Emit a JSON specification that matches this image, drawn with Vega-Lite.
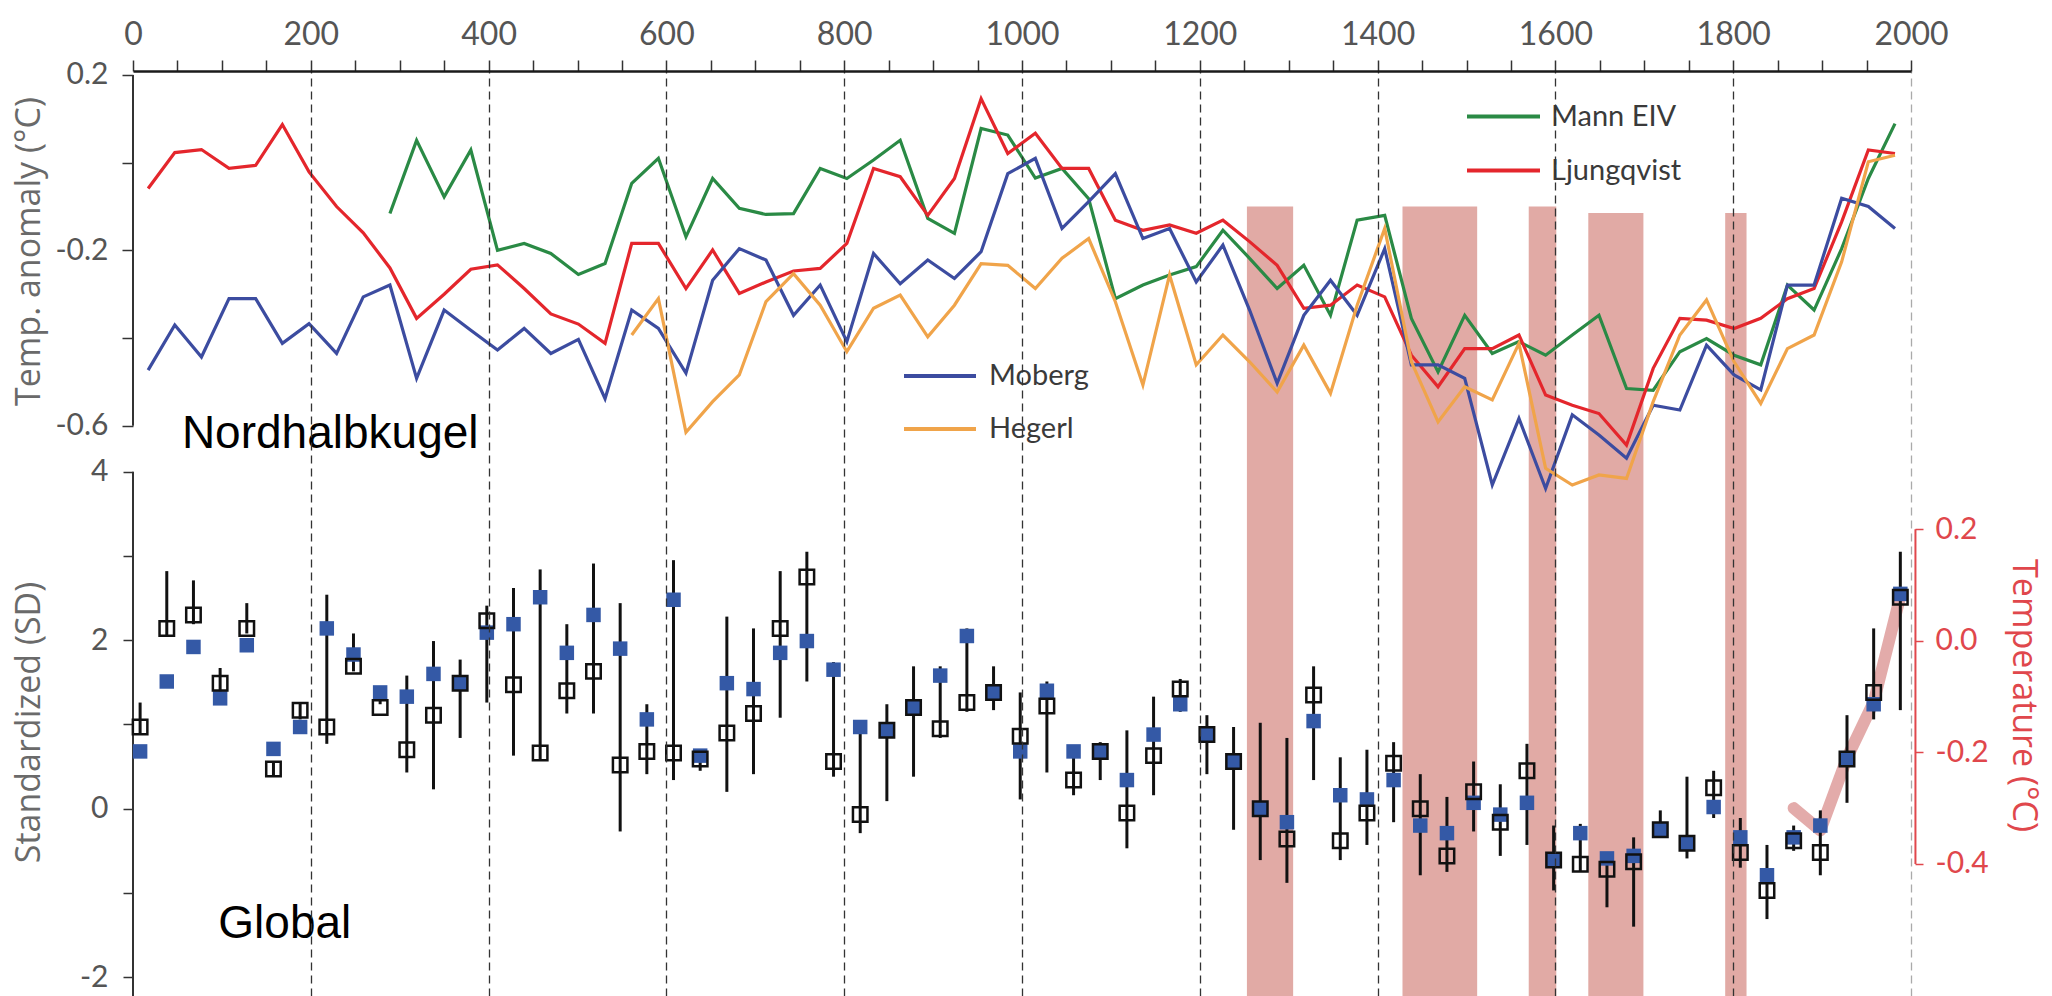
{
  "$schema": "https://vega.github.io/schema/vega-lite/v6.json",
  "width": 1778,
  "height": 925,
  "autosize": {"type": "none"},
  "padding": {"left": 133, "top": 71, "right": 141, "bottom": 0},
  "background": "white",
  "config": {
    "view": {"stroke": null},
    "axis": {"labelFont": "Lato", "titleFont": "Open Sans", "titleFontWeight": "normal"},
    "legend": {"labelFont": "Lato"}
  },
  "datasets": {
    "top": [
      {"year": 17, "ljung": -0.059, "moberg": -0.473},
      {"year": 47, "ljung": 0.023, "moberg": -0.370},
      {"year": 77, "ljung": 0.030, "moberg": -0.443},
      {"year": 108, "ljung": -0.013, "moberg": -0.310},
      {"year": 138, "ljung": -0.006, "moberg": -0.310},
      {"year": 168, "ljung": 0.087, "moberg": -0.412},
      {"year": 198, "ljung": -0.021, "moberg": -0.367},
      {"year": 229, "ljung": -0.100, "moberg": -0.435},
      {"year": 259, "ljung": -0.160, "moberg": -0.306},
      {"year": 289, "mann": -0.116, "ljung": -0.240, "moberg": -0.279},
      {"year": 319, "mann": 0.051, "ljung": -0.355, "moberg": -0.492},
      {"year": 350, "mann": -0.078, "ljung": -0.300, "moberg": -0.336},
      {"year": 380, "mann": 0.029, "ljung": -0.243, "moberg": -0.382},
      {"year": 410, "mann": -0.200, "ljung": -0.233, "moberg": -0.427},
      {"year": 440, "mann": -0.184, "ljung": -0.287, "moberg": -0.378},
      {"year": 470, "mann": -0.207, "ljung": -0.345, "moberg": -0.435},
      {"year": 501, "mann": -0.255, "ljung": -0.368, "moberg": -0.403},
      {"year": 531, "mann": -0.230, "ljung": -0.412, "moberg": -0.538},
      {"year": 561, "mann": -0.047, "ljung": -0.184, "moberg": -0.336, "hegerl": -0.393},
      {"year": 591, "mann": 0.010, "ljung": -0.184, "moberg": -0.378, "hegerl": -0.310},
      {"year": 622, "mann": -0.169, "ljung": -0.287, "moberg": -0.480, "hegerl": -0.615},
      {"year": 652, "mann": -0.036, "ljung": -0.199, "moberg": -0.268, "hegerl": -0.545},
      {"year": 682, "mann": -0.104, "ljung": -0.298, "moberg": -0.196, "hegerl": -0.484},
      {"year": 712, "mann": -0.118, "ljung": -0.272, "moberg": -0.222, "hegerl": -0.317},
      {"year": 743, "mann": -0.116, "ljung": -0.247, "moberg": -0.348, "hegerl": -0.253},
      {"year": 773, "mann": -0.013, "ljung": -0.241, "moberg": -0.279, "hegerl": -0.325},
      {"year": 803, "mann": -0.036, "ljung": -0.184, "moberg": -0.408, "hegerl": -0.431},
      {"year": 833, "mann": 0.006, "ljung": -0.013, "moberg": -0.207, "hegerl": -0.332},
      {"year": 863, "mann": 0.051, "ljung": -0.032, "moberg": -0.276, "hegerl": -0.302},
      {"year": 894, "mann": -0.127, "ljung": -0.120, "moberg": -0.222, "hegerl": -0.397},
      {"year": 924, "mann": -0.161, "ljung": -0.036, "moberg": -0.264, "hegerl": -0.325},
      {"year": 954, "mann": 0.078, "ljung": 0.146, "moberg": -0.203, "hegerl": -0.230},
      {"year": 984, "mann": 0.063, "ljung": 0.021, "moberg": -0.025, "hegerl": -0.234},
      {"year": 1015, "mann": -0.035, "ljung": 0.067, "moberg": 0.010, "hegerl": -0.287},
      {"year": 1045, "mann": -0.013, "ljung": -0.013, "moberg": -0.150, "hegerl": -0.218},
      {"year": 1075, "mann": -0.082, "ljung": -0.013, "moberg": -0.089, "hegerl": -0.173},
      {"year": 1105, "mann": -0.310, "ljung": -0.131, "moberg": -0.025, "hegerl": -0.317},
      {"year": 1136, "mann": -0.279, "ljung": -0.154, "moberg": -0.173, "hegerl": -0.507},
      {"year": 1166, "mann": -0.256, "ljung": -0.142, "moberg": -0.150, "hegerl": -0.256},
      {"year": 1196, "mann": -0.237, "ljung": -0.161, "moberg": -0.272, "hegerl": -0.461},
      {"year": 1226, "mann": -0.154, "ljung": -0.131, "moberg": -0.188, "hegerl": -0.393},
      {"year": 1256, "mann": -0.218, "ljung": -0.180, "moberg": -0.336, "hegerl": -0.454},
      {"year": 1287, "mann": -0.287, "ljung": -0.234, "moberg": -0.503, "hegerl": -0.523},
      {"year": 1317, "mann": -0.234, "ljung": -0.332, "moberg": -0.348, "hegerl": -0.416},
      {"year": 1347, "mann": -0.348, "ljung": -0.325, "moberg": -0.268, "hegerl": -0.526},
      {"year": 1377, "mann": -0.131, "ljung": -0.279, "moberg": -0.348, "hegerl": -0.325},
      {"year": 1408, "mann": -0.120, "ljung": -0.306, "moberg": -0.196, "hegerl": -0.150},
      {"year": 1438, "mann": -0.355, "ljung": -0.439, "moberg": -0.461, "hegerl": -0.454},
      {"year": 1468, "mann": -0.477, "ljung": -0.511, "moberg": -0.461, "hegerl": -0.591},
      {"year": 1498, "mann": -0.348, "ljung": -0.424, "moberg": -0.492, "hegerl": -0.511},
      {"year": 1529, "mann": -0.435, "ljung": -0.424, "moberg": -0.735, "hegerl": -0.541},
      {"year": 1559, "mann": -0.408, "ljung": -0.393, "moberg": -0.583, "hegerl": -0.412},
      {"year": 1589, "mann": -0.439, "ljung": -0.530, "moberg": -0.743, "hegerl": -0.697},
      {"year": 1619, "mann": -0.393, "ljung": -0.553, "moberg": -0.575, "hegerl": -0.735},
      {"year": 1649, "mann": -0.348, "ljung": -0.572, "moberg": -0.621, "hegerl": -0.712},
      {"year": 1680, "mann": -0.515, "ljung": -0.644, "moberg": -0.674, "hegerl": -0.720},
      {"year": 1710, "mann": -0.519, "ljung": -0.469, "moberg": -0.553, "hegerl": -0.545},
      {"year": 1740, "mann": -0.431, "ljung": -0.355, "moberg": -0.564, "hegerl": -0.393},
      {"year": 1770, "mann": -0.401, "ljung": -0.359, "moberg": -0.416, "hegerl": -0.313},
      {"year": 1801, "mann": -0.439, "ljung": -0.378, "moberg": -0.484, "hegerl": -0.454},
      {"year": 1831, "mann": -0.461, "ljung": -0.355, "moberg": -0.518, "hegerl": -0.549},
      {"year": 1861, "mann": -0.279, "ljung": -0.310, "moberg": -0.279, "hegerl": -0.424},
      {"year": 1891, "mann": -0.336, "ljung": -0.287, "moberg": -0.279, "hegerl": -0.393},
      {"year": 1922, "mann": -0.196, "ljung": -0.135, "moberg": -0.081, "hegerl": -0.226},
      {"year": 1952, "mann": -0.036, "ljung": 0.029, "moberg": -0.100, "hegerl": 0.002},
      {"year": 1982, "mann": 0.089, "ljung": 0.021, "moberg": -0.150, "hegerl": 0.017}
    ],
    "bottom": [
      {"year": 8, "open": 0.97, "blue": 0.68, "lo": 0.88, "hi": 1.26},
      {"year": 38, "open": 2.14, "blue": 1.51, "lo": 2.05, "hi": 2.82},
      {"year": 68, "open": 2.30, "blue": 1.92, "lo": 2.19, "hi": 2.71},
      {"year": 98, "open": 1.49, "blue": 1.31, "lo": 1.35, "hi": 1.67},
      {"year": 128, "open": 2.14, "blue": 1.94, "lo": 2.08, "hi": 2.44},
      {"year": 158, "open": 0.47, "blue": 0.71, "lo": 0.38, "hi": 0.56},
      {"year": 188, "open": 1.17, "blue": 0.97, "lo": 1.06, "hi": 1.26},
      {"year": 218, "open": 0.97, "blue": 2.14, "lo": 0.77, "hi": 2.54},
      {"year": 248, "open": 1.69, "blue": 1.83, "lo": 1.63, "hi": 2.08},
      {"year": 278, "open": 1.20, "blue": 1.38, "lo": 1.24, "hi": 1.45},
      {"year": 308, "open": 0.70, "blue": 1.33, "lo": 0.43, "hi": 1.58},
      {"year": 338, "open": 1.11, "blue": 1.60, "lo": 0.23, "hi": 1.99},
      {"year": 368, "open": 1.49, "blue": 1.49, "lo": 0.84, "hi": 1.77},
      {"year": 398, "open": 2.23, "blue": 2.09, "lo": 1.26, "hi": 2.41},
      {"year": 428, "open": 1.47, "blue": 2.19, "lo": 0.63, "hi": 2.62},
      {"year": 458, "open": 0.66, "blue": 2.51, "lo": 0.59, "hi": 2.84},
      {"year": 488, "open": 1.40, "blue": 1.85, "lo": 1.13, "hi": 2.19},
      {"year": 518, "open": 1.63, "blue": 2.30, "lo": 1.13, "hi": 2.91},
      {"year": 548, "open": 0.52, "blue": 1.90, "lo": -0.27, "hi": 2.44},
      {"year": 578, "open": 0.68, "blue": 1.06, "lo": 0.41, "hi": 1.24},
      {"year": 608, "open": 0.66, "blue": 2.48, "lo": 0.34, "hi": 2.95},
      {"year": 638, "open": 0.59, "blue": 0.63, "lo": 0.45, "hi": 0.70},
      {"year": 668, "open": 0.90, "blue": 1.49, "lo": 0.20, "hi": 2.28},
      {"year": 698, "open": 1.13, "blue": 1.42, "lo": 0.41, "hi": 2.14},
      {"year": 728, "open": 2.14, "blue": 1.85, "lo": 1.08, "hi": 2.82},
      {"year": 758, "open": 2.75, "blue": 1.99, "lo": 1.51, "hi": 3.05},
      {"year": 788, "open": 0.56, "blue": 1.65, "lo": 0.38, "hi": 1.74},
      {"year": 818, "open": -0.07, "blue": 0.97, "lo": -0.29, "hi": 0.97},
      {"year": 848, "open": 0.93, "blue": 0.93, "lo": 0.09, "hi": 1.24},
      {"year": 878, "open": 1.20, "blue": 1.20, "lo": 0.38, "hi": 1.69},
      {"year": 908, "open": 0.95, "blue": 1.58, "lo": 0.84, "hi": 1.69},
      {"year": 938, "open": 1.26, "blue": 2.05, "lo": 1.15, "hi": 2.14},
      {"year": 968, "open": 1.38, "blue": 1.38, "lo": 1.17, "hi": 1.69},
      {"year": 998, "open": 0.86, "blue": 0.68, "lo": 0.11, "hi": 1.38},
      {"year": 1028, "open": 1.22, "blue": 1.40, "lo": 0.43, "hi": 1.51},
      {"year": 1058, "open": 0.34, "blue": 0.68, "lo": 0.16, "hi": 0.70},
      {"year": 1088, "open": 0.68, "blue": 0.68, "lo": 0.34, "hi": 0.79},
      {"year": 1118, "open": -0.05, "blue": 0.34, "lo": -0.47, "hi": 0.93},
      {"year": 1148, "open": 0.63, "blue": 0.88, "lo": 0.16, "hi": 1.33},
      {"year": 1178, "open": 1.42, "blue": 1.24, "lo": 1.15, "hi": 1.54},
      {"year": 1208, "open": 0.88, "blue": 0.88, "lo": 0.41, "hi": 1.11},
      {"year": 1238, "open": 0.56, "blue": 0.56, "lo": -0.25, "hi": 0.97},
      {"year": 1268, "open": 0.00, "blue": 0.00, "lo": -0.61, "hi": 1.02},
      {"year": 1298, "open": -0.36, "blue": -0.16, "lo": -0.88, "hi": 0.84},
      {"year": 1328, "open": 1.35, "blue": 1.04, "lo": 0.34, "hi": 1.69},
      {"year": 1358, "open": -0.38, "blue": 0.16, "lo": -0.61, "hi": 0.61},
      {"year": 1388, "open": -0.05, "blue": 0.11, "lo": -0.43, "hi": 0.70},
      {"year": 1418, "open": 0.54, "blue": 0.34, "lo": -0.16, "hi": 0.79},
      {"year": 1448, "open": 0.00, "blue": -0.20, "lo": -0.79, "hi": 0.41},
      {"year": 1478, "open": -0.56, "blue": -0.29, "lo": -0.75, "hi": 0.14},
      {"year": 1508, "open": 0.20, "blue": 0.07, "lo": -0.27, "hi": 0.56},
      {"year": 1538, "open": -0.16, "blue": -0.07, "lo": -0.56, "hi": 0.29},
      {"year": 1568, "open": 0.45, "blue": 0.07, "lo": -0.43, "hi": 0.77},
      {"year": 1598, "open": -0.61, "blue": -0.61, "lo": -0.97, "hi": -0.20},
      {"year": 1628, "open": -0.66, "blue": -0.29, "lo": -0.75, "hi": -0.18},
      {"year": 1658, "open": -0.72, "blue": -0.59, "lo": -1.17, "hi": -0.54},
      {"year": 1688, "open": -0.63, "blue": -0.56, "lo": -1.40, "hi": -0.34},
      {"year": 1718, "open": -0.25, "blue": -0.25, "lo": -0.34, "hi": -0.02},
      {"year": 1748, "open": -0.41, "blue": -0.41, "lo": -0.59, "hi": 0.38},
      {"year": 1778, "open": 0.25, "blue": 0.02, "lo": -0.11, "hi": 0.45},
      {"year": 1808, "open": -0.52, "blue": -0.34, "lo": -0.70, "hi": -0.11},
      {"year": 1838, "open": -0.97, "blue": -0.79, "lo": -1.31, "hi": -0.43},
      {"year": 1868, "open": -0.38, "blue": -0.34, "lo": -0.50, "hi": -0.20},
      {"year": 1898, "open": -0.52, "blue": -0.20, "lo": -0.79, "hi": -0.02},
      {"year": 1928, "open": 0.59, "blue": 0.59, "lo": 0.07, "hi": 1.11},
      {"year": 1958, "open": 1.38, "blue": 1.24, "lo": 1.06, "hi": 2.14},
      {"year": 1988, "open": 2.51, "blue": 2.55, "lo": 1.17, "hi": 3.05}
    ],
    "instr": [
      {"year": 1868, "temp": -0.30},
      {"year": 1898, "temp": -0.34},
      {"year": 1928, "temp": -0.21},
      {"year": 1958, "temp": -0.11},
      {"year": 1988, "temp": 0.08}
    ],
    "bands": [
      {"start": 1253, "end": 1305, "top": -0.100},
      {"start": 1428, "end": 1512, "top": -0.100},
      {"start": 1570, "end": 1601, "top": -0.100},
      {"start": 1637, "end": 1699, "top": -0.115},
      {"start": 1791, "end": 1815, "top": -0.115}
    ]
  },
  "resolve": {"scale": {"y": "independent"}, "axis": {"y": "independent"}},
  "layer": [
    {
      "resolve": {"scale": {"color": "independent"}, "legend": {"color": "independent"}},
      "layer": [
        {
          "data": {"name": "bands"},
          "mark": {"type": "rect", "color": "#e1aaa5"},
          "encoding": {
            "x": {
              "field": "start", "type": "quantitative",
              "scale": {"domain": [0, 2000], "nice": false, "zero": false},
              "axis": {
                "orient": "top", "title": null, "format": "d",
                "values": [0,50,100,150,200,250,300,350,400,450,500,550,600,650,700,750,800,850,900,950,1000,1050,1100,1150,1200,1250,1300,1350,1400,1450,1500,1550,1600,1650,1700,1750,1800,1850,1900,1950,2000],
                "labelExpr": "datum.value % 200 == 0 ? datum.label : ''",
                "labelFontSize": 32, "labelColor": "#555555", "labelPadding": 9,
                "labelOverlap": false, "labelFlush": false,
                "domain": true, "domainColor": "#1a1a1a", "domainWidth": 2.6,
                "ticks": true, "tickColor": "#333333", "tickSize": 11, "tickWidth": 1.5,
                "grid": true,
                "gridDash": [8, 5],
                "gridWidth": 1.3,
                "gridColor": {"condition": {"test": "datum.value == 2000", "value": "#aaaaaa"}, "value": "#333333"},
                "gridOpacity": {"condition": {"test": "datum.value % 200 == 0 && datum.value > 0", "value": 1}, "value": 0},
                "zindex": 1
              }
            },
            "x2": {"field": "end"},
            "y": {
              "field": "top", "type": "quantitative",
              "scale": {"domain": [-1.9003, 0.2091], "nice": false, "zero": false},
              "axis": {
                "orient": "left", "values": [0.2, 0, -0.2, -0.4, -0.6],
                "labelExpr": "(datum.value > 0.1 || (datum.value < -0.1 && datum.value > -0.3) || datum.value < -0.5) ? replace(format(datum.value, '.1f'), '\u2212', '-') : ''",
                "domain": false, "grid": false, "ticks": true,
                "tickColor": "#333333", "tickSize": 11, "tickWidth": 1.5,
                "labelFontSize": 30, "labelColor": "#555555", "labelPadding": 14,
                "title": "Temp. anomaly (°C)", "titleFontSize": 34, "titleColor": "#6a6a6a",
                "titleX": -104, "titleY": 180, "titleAngle": -90, "titleBaseline": "middle", "titleAlign": "center"
              }
            },
            "y2": {"datum": -1.9003}
          }
        },
        {
          "data": {"values": [{}]},
          "mark": {"type": "rule", "color": "#333333", "strokeWidth": 2},
          "encoding": {
            "x": {"datum": 0, "type": "quantitative"},
            "y": {"datum": 0.2, "type": "quantitative"},
            "y2": {"datum": -0.6}
          }
        },
        {
          "data": {"name": "top"},
          "transform": [{"fold": ["mann", "ljung"], "as": ["series", "t"]}],
          "mark": {"type": "line", "strokeWidth": 3.2},
          "encoding": {
            "x": {"field": "year", "type": "quantitative", "title": null},
            "y": {"field": "t", "type": "quantitative"},
            "color": {
              "field": "series", "type": "nominal",
              "scale": {"domain": ["mann", "ljung"], "range": ["#2a8a45", "#e4262c"]},
              "legend": {
                "orient": "none", "legendX": 1332, "legendY": 7, "title": null, "padding": 0,
                "symbolType": "stroke", "symbolSize": 5329, "symbolStrokeWidth": 4,
                "labelFontSize": 29, "labelColor": "#3a3a3a", "labelOffset": 9, "rowPadding": -24,
                "labelExpr": "datum.value == 'mann' ? 'Mann EIV' : 'Ljungqvist'"
              }
            }
          }
        },
        {
          "data": {"name": "top"},
          "transform": [{"fold": ["moberg", "hegerl"], "as": ["series", "t"]}],
          "mark": {"type": "line", "strokeWidth": 3.2},
          "encoding": {
            "x": {"field": "year", "type": "quantitative", "title": null},
            "y": {"field": "t", "type": "quantitative"},
            "color": {
              "field": "series", "type": "nominal",
              "scale": {"domain": ["moberg", "hegerl"], "range": ["#3c4ca0", "#f0a44a"]},
              "legend": {
                "orient": "none", "legendX": 769, "legendY": 267, "title": null, "padding": 0,
                "symbolType": "stroke", "symbolSize": 5184, "symbolStrokeWidth": 4,
                "labelFontSize": 29, "labelColor": "#3a3a3a", "labelOffset": 11, "rowPadding": -24,
                "labelExpr": "datum.value == 'moberg' ? 'Moberg' : 'Hegerl'"
              }
            }
          }
        },
        {
          "data": {"values": [{}]},
          "mark": {"type": "text", "font": "Liberation Sans", "fontSize": 46, "align": "left", "baseline": "alphabetic", "color": "#000000"},
          "encoding": {
            "x": {"datum": 55, "type": "quantitative"},
            "y": {"datum": -0.6495, "type": "quantitative"},
            "text": {"value": "Nordhalbkugel"}
          }
        }
      ]
    },
    {
      "layer": [
        {
          "data": {"name": "instr"},
          "mark": {"type": "line", "color": "#d98f8e", "strokeWidth": 12, "opacity": 0.75, "strokeCap": "round", "strokeJoin": "round"},
          "encoding": {
            "x": {"field": "year", "type": "quantitative", "title": null},
            "y": {
              "field": "temp", "type": "quantitative",
              "scale": {"domain": [-0.6369, 1.0217], "nice": false, "zero": false},
              "axis": {
                "orient": "right", "values": [0.2, 0, -0.2, -0.4], "format": ".1f",
                "labelExpr": "replace(datum.label, '\u2212', '-')",
                "domain": false, "grid": false, "ticks": true, "offset": 4,
                "tickColor": "#e0474c", "tickSize": 8, "tickWidth": 1.5,
                "labelColor": "#e0474c", "labelFontSize": 30, "labelPadding": 12,
                "title": "Temperature (°C)", "titleColor": "#e0474c", "titleFontSize": 34,
                "titleX": 107, "titleY": 624, "titleAngle": 90, "titleBaseline": "middle", "titleAlign": "center"
              }
            }
          }
        },
        {
          "data": {"values": [{}]},
          "mark": {"type": "rule", "color": "#e0474c", "strokeWidth": 2},
          "encoding": {
            "x": {"datum": 2005, "type": "quantitative"},
            "y": {"datum": 0.2, "type": "quantitative"},
            "y2": {"datum": -0.4}
          }
        }
      ]
    },
    {
      "layer": [
        {
          "data": {"name": "bottom"},
          "mark": {"type": "rule", "color": "#111111", "strokeWidth": 3},
          "encoding": {
            "x": {"field": "year", "type": "quantitative", "title": null},
            "y": {
              "field": "lo", "type": "quantitative",
              "scale": {"domain": [-2.223, 8.756], "nice": false, "zero": false},
              "axis": {
                "orient": "left", "values": [4, 3, 2, 1, 0, -1, -2],
                "labelExpr": "datum.value % 2 == 0 ? replace(format(datum.value, 'd'), '\u2212', '-') : ''",
                "domain": false, "grid": false, "ticks": true,
                "tickColor": "#333333", "tickSize": 10, "tickWidth": 1.5,
                "labelFontSize": 30, "labelColor": "#555555", "labelPadding": 15,
                "title": "Standardized (SD)", "titleFontSize": 34, "titleColor": "#6a6a6a",
                "titleX": -104, "titleY": 651, "titleAngle": -90, "titleBaseline": "middle", "titleAlign": "center"
              }
            },
            "y2": {"field": "hi"}
          }
        },
        {
          "data": {"values": [{}]},
          "mark": {"type": "rule", "color": "#333333", "strokeWidth": 2},
          "encoding": {
            "x": {"datum": 0, "type": "quantitative"},
            "y": {"datum": 4, "type": "quantitative"},
            "y2": {"datum": -2.223}
          }
        },
        {
          "data": {"name": "bottom"},
          "mark": {"type": "point", "shape": "square", "filled": true, "color": "#3459a6", "size": 210, "opacity": 1},
          "encoding": {
            "x": {"field": "year", "type": "quantitative", "title": null},
            "y": {"field": "blue", "type": "quantitative"}
          }
        },
        {
          "data": {"name": "bottom"},
          "mark": {"type": "point", "shape": "square", "filled": false, "color": "#111111", "strokeWidth": 2.5, "size": 210, "opacity": 1},
          "encoding": {
            "x": {"field": "year", "type": "quantitative", "title": null},
            "y": {"field": "open", "type": "quantitative"}
          }
        },
        {
          "data": {"values": [{}]},
          "mark": {"type": "text", "font": "Liberation Sans", "fontSize": 46, "align": "left", "baseline": "alphabetic", "color": "#000000"},
          "encoding": {
            "x": {"datum": 96, "type": "quantitative"},
            "y": {"datum": -1.535, "type": "quantitative"},
            "text": {"value": "Global"}
          }
        }
      ]
    }
  ]
}
